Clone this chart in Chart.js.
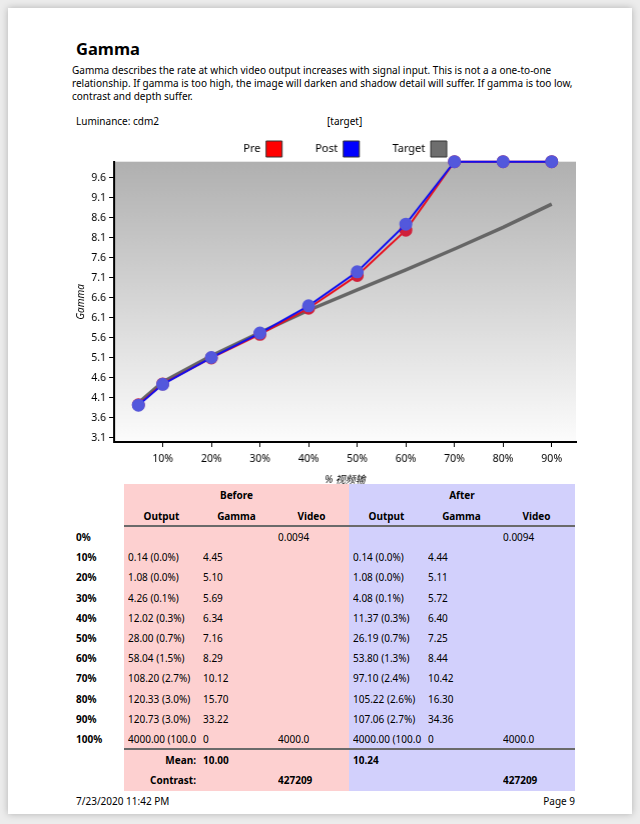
<!DOCTYPE html>
<html>
<head>
<meta charset="utf-8">
<script src="https://cdn.jsdelivr.net/npm/chart.js@4.4.1/dist/chart.umd.min.js"></script>
<style>
  body { margin: 0; background: #ececec; font-family: 'Noto Sans', 'Noto Sans CJK SC', sans-serif; color: #000; }
  #page { position: absolute; left: 8px; top: 8px; width: 624px; height: 806px; background: #fff; box-shadow: 0 0 7px rgba(0,0,0,0.25); }
  .abs { position: absolute; white-space: nowrap; }
  #title { left: 76px; top: 38px; font-size: 16.5px; font-weight: bold; line-height: 22px; }
  #desc { left: 72px; top: 64px; font-size: 10px; line-height: 13px; }
  .small { font-size: 10px; line-height: 13px; }
  #chartBox { position: absolute; left: 70px; top: 108px; width: 512.5px; height: 378px; }
  .cell { position: absolute; font-size: 10px; line-height: 20px; height: 20px; white-space: nowrap; overflow: hidden; }
  .b { font-weight: bold; }
</style>
</head>
<body>
<div id="page"></div>
<div class="abs" id="title">Gamma</div>
<div class="abs" id="desc">Gamma describes the rate at which video output increases with signal input. This is not a a one-to-one<br>relationship. If gamma is too high, the image will darken and shadow detail will suffer. If gamma is too low,<br>contrast and depth suffer.</div>
<div class="abs small" style="left:76px;top:115px;">Luminance: cdm2</div>
<div class="abs small" style="left:327px;top:115px;">[target]</div>
<div id="chartBox"><canvas id="gammaChart"></canvas></div>
<div id="table"></div>
<div class="abs small" style="left:76px;top:795px;">7/23/2020 11:42 PM</div>
<div class="abs small" style="right:65px;top:795px;">Page 9</div>
<script>
// chart data
const signalLevels = [5, 10, 20, 30, 40, 50, 60, 70, 80, 90];
const preGamma = [3.93, 4.45, 5.10, 5.69, 6.34, 7.16, 8.29, 10.12, 15.70, 33.22];
const postGamma = [3.92, 4.44, 5.11, 5.72, 6.40, 7.25, 8.44, 10.42, 16.30, 34.36];
const targetGamma = [3.98, 4.50, 5.15, 5.73, 6.29, 6.80, 7.30, 7.82, 8.36, 8.94];
const yTicks = [3.1, 3.6, 4.1, 4.6, 5.1, 5.6, 6.1, 6.6, 7.1, 7.6, 8.1, 8.6, 9.1, 9.6];
const xTicks = [10, 20, 30, 40, 50, 60, 70, 80, 90];
const yMin = 3.0, yMax = 10.0;

// table data
const rowLabels = ['0%', '10%', '20%', '30%', '40%', '50%', '60%', '70%', '80%', '90%', '100%'];
const beforeOutput = ['', '0.14 (0.0%)', '1.08 (0.0%)', '4.26 (0.1%)', '12.02 (0.3%)', '28.00 (0.7%)', '58.04 (1.5%)', '108.20 (2.7%)', '120.33 (3.0%)', '120.73 (3.0%)', '4000.00 (100.0'];
const beforeGamma = ['', '4.45', '5.10', '5.69', '6.34', '7.16', '8.29', '10.12', '15.70', '33.22', '0'];
const beforeVideo = ['0.0094', '', '', '', '', '', '', '', '', '', '4000.0'];
const afterOutput = ['', '0.14 (0.0%)', '1.08 (0.0%)', '4.08 (0.1%)', '11.37 (0.3%)', '26.19 (0.7%)', '53.80 (1.3%)', '97.10 (2.4%)', '105.22 (2.6%)', '107.06 (2.7%)', '4000.00 (100.0'];
const afterGamma = ['', '4.44', '5.11', '5.72', '6.40', '7.25', '8.44', '10.42', '16.30', '34.36', '0'];
const afterVideo = ['0.0094', '', '', '', '', '', '', '', '', '', '4000.0'];
const meanBefore = '10.00', meanAfter = '10.24';
const contrastBefore = '427209', contrastAfter = '427209';

const FONT = "'Noto Sans', 'Noto Sans CJK SC', sans-serif";

function buildTable() {
    const t = document.getElementById('table');
    let html = '';
    const colX = [124, 199, 274, 349, 424, 499];
    const colW = 75;
    // backgrounds
    html += '<div class="abs" style="left:124px;top:484px;width:225px;height:307px;background:#fdd0d0"></div>';
    html += '<div class="abs" style="left:349px;top:484px;width:226px;height:307px;background:#d2d0fc"></div>';
    html += '<div class="abs" style="left:124px;top:525px;width:451px;height:2px;background:#6a6a6a"></div>';
    html += '<div class="abs" style="left:124px;top:748px;width:451px;height:2px;background:#6a6a6a"></div>';
    const cell = (x, y, w, txt, align, bold) =>
        `<div class="cell${bold ? ' b' : ''}" style="left:${x}px;top:${y}px;width:${w}px;text-align:${align}">${txt}</div>`;
    html += cell(124, 485, 225, 'Before', 'center', true);
    html += cell(349, 485, 226, 'After', 'center', true);
    ['Output', 'Gamma', 'Video', 'Output', 'Gamma', 'Video'].forEach((h, i) => {
        html += cell(colX[i], 506, colW, h, 'center', true);
    });
    rowLabels.forEach((lab, i) => {
        const y = 527 + i * 20.2;
        html += cell(76, y, 48, lab, 'left', true);
        const vals = [beforeOutput[i], beforeGamma[i], beforeVideo[i], afterOutput[i], afterGamma[i], afterVideo[i]];
        vals.forEach((v, j) => {
            html += cell(colX[j] + 4, y, colW - 4, v, 'left', false);
        });
    });
    html += cell(124, 750, 72, 'Mean:', 'right', true);
    html += cell(203, 750, 70, meanBefore, 'left', true);
    html += cell(353, 750, 70, meanAfter, 'left', true);
    html += cell(124, 770, 72, 'Contrast:', 'right', true);
    html += cell(278, 770, 70, contrastBefore, 'left', true);
    html += cell(503, 770, 70, contrastAfter, 'left', true);
    t.innerHTML = html;
}
buildTable();

// values above the axis top are drawn pinned to the top edge
const toPoints = (vals) => vals.map((v, i) => ({ x: signalLevels[i], y: Math.min(v, yMax) }));

const plotBackground = {
    id: 'plotBackground',
    beforeDraw(chart) {
        const { ctx, chartArea: a } = chart;
        const g = ctx.createLinearGradient(0, a.top, 0, a.bottom);
        g.addColorStop(0, '#b0b0b0');
        g.addColorStop(1, '#fcfcfc');
        ctx.save();
        ctx.fillStyle = g;
        ctx.fillRect(a.left, a.top, a.right - a.left, a.bottom - a.top);
        ctx.restore();
    }
};

// keep the wide legend spacing without the matching tall legend box
const legendHeight = {
    id: 'legendHeight',
    beforeLayout(chart) {
        const lg = chart.legend;
        if (lg && !lg._fitPatched) {
            const fit = lg.fit.bind(lg);
            lg.fit = function() { fit(); this.height = 53.7; };
            lg._fitPatched = true;
        }
    }
};

const ctx = document.getElementById('gammaChart').getContext('2d');
const chart = new Chart(ctx, {
    type: 'line',
    data: {
        datasets: [
            {
                label: 'Post',
                data: toPoints(postGamma),
                borderColor: '#1010f0',
                borderWidth: 2,
                pointBackgroundColor: '#5358dc',
                pointBorderColor: '#5358dc',
                pointRadius: 5.5,
                order: 0,
                clip: false
            },
            {
                label: 'Pre',
                data: toPoints(preGamma),
                borderColor: '#e8101e',
                borderWidth: 2,
                pointBackgroundColor: '#d0213b',
                pointBorderColor: '#d0213b',
                pointRadius: 5.5,
                order: 1,
                clip: false
            },
            {
                label: 'Target',
                data: toPoints(targetGamma),
                borderColor: '#666666',
                borderWidth: 3.5,
                pointRadius: 0,
                order: 2,
                clip: false
            }
        ]
    },
    options: {
        responsive: true,
        maintainAspectRatio: false,
        animation: false,
        layout: { padding: { top: 0, right: 2.5, bottom: 0, left: 0 } },
        plugins: {
            tooltip: { enabled: false },
            legend: {
                position: 'top',
                fullSize: false,
                rtl: true,
                reverse: true,
                labels: {
                    boxWidth: 16,
                    boxHeight: 16,
                    padding: 33,
                    color: '#000',
                    font: { family: FONT, size: 11 },
                    generateLabels: () => [
                        { text: 'Pre', fillStyle: '#ff0000', strokeStyle: '#333', lineWidth: 1, datasetIndex: 1 },
                        { text: 'Post', fillStyle: '#0000ff', strokeStyle: '#333', lineWidth: 1, datasetIndex: 0 },
                        { text: 'Target', fillStyle: '#6e6e6e', strokeStyle: '#333', lineWidth: 1, datasetIndex: 2 }
                    ]
                }
            }
        },
        scales: {
            x: {
                type: 'linear',
                min: 0,
                max: 95,
                afterBuildTicks: (axis) => { axis.ticks = xTicks.map(v => ({ value: v })); },
                afterFit: (axis) => { axis.height = 44; },
                ticks: {
                    color: '#000',
                    font: { family: FONT, size: 10.5 },
                    padding: 6,
                    callback: (v) => v + '%'
                },
                grid: { drawOnChartArea: false, tickLength: 5, color: '#000', lineWidth: 1 },
                border: { color: '#000', width: 2 },
                title: {
                    display: true,
                    text: '% 视频输',
                    color: '#000',
                    font: { family: FONT, size: 10, style: 'italic' },
                    padding: { top: 2, bottom: 0 }
                }
            },
            y: {
                type: 'linear',
                min: yMin,
                max: yMax,
                afterBuildTicks: (axis) => { axis.ticks = yTicks.map(v => ({ value: v })); },
                afterFit: (axis) => { axis.width = 44; },
                ticks: {
                    color: '#000',
                    font: { family: FONT, size: 10.5 },
                    padding: 3,
                    callback: (v) => v.toFixed(1)
                },
                grid: { drawOnChartArea: false, tickLength: 5, color: '#000', lineWidth: 1 },
                border: { color: '#000', width: 2 },
                title: {
                    display: true,
                    text: 'Gamma',
                    color: '#000',
                    font: { family: FONT, size: 10, style: 'italic' },
                    padding: { top: 5, bottom: 0 }
                }
            }
        }
    },
    plugins: [plotBackground, legendHeight]
});
</script>
</body>
</html>
